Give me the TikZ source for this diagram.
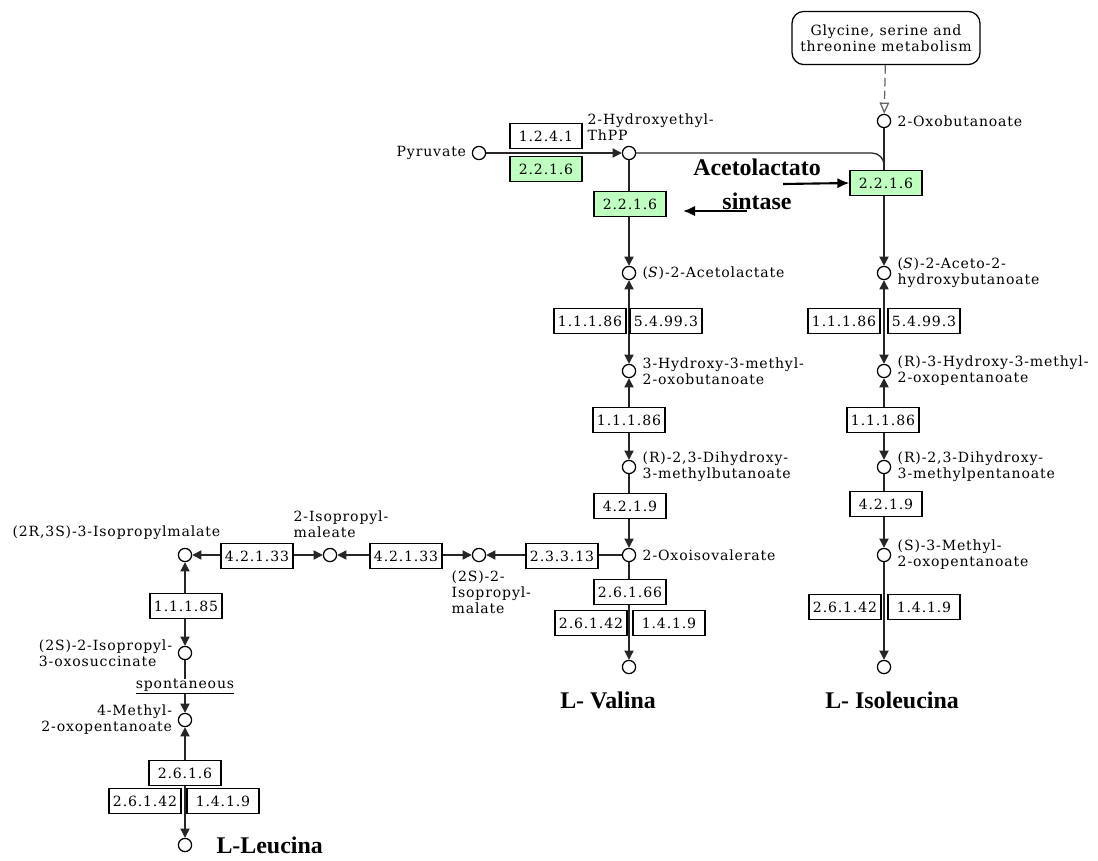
\documentclass[tikz,border=0pt]{standalone}
\usepackage{fontspec}
\setmainfont{Liberation Serif}
\newfontfamily\keggfont[LetterSpace=6]{DejaVu Serif}
\usepackage{tikz}
\usetikzlibrary{arrows.meta,shapes,positioning}
\definecolor{enzgreen}{RGB}{191,255,191}
\tikzset{
  cpd/.style={circle, draw, fill=white, line width=0.9pt, minimum size=3.3mm, inner sep=0pt},
  enz/.style={rectangle, draw, fill=white, line width=0.9pt, minimum width=1.8cm, minimum height=0.64cm, inner sep=1pt, font=\keggfont\fontsize{10}{12}\selectfont},
  enzg/.style={enz, fill=enzgreen},
  lbl/.style={font=\keggfont\fontsize{10}{11.5}\selectfont, inner sep=1pt, align=left},
  amino/.style={font=\bfseries\fontsize{17}{24}\selectfont, inner sep=0pt},
  rxn/.style={line width=0.9pt, draw=black!85}
}

\begin{document}
\begin{tikzpicture}[x=0.025cm, y=-0.025cm, >={Triangle[length=2.3mm,width=2.3mm]}]
        \useasboundingbox (0,0) rectangle (1098,861);

        % Compounds (small circles)
        \node[cpd] (pyr) at (479,153) {};
        \node[cpd] (thpp) at (629,153) {};
        \node[cpd] (oxb) at (884,121) {};
        \node[cpd] (acl) at (629,273) {};
        \node[cpd] (hmob) at (629,371) {};
        \node[cpd] (dhmb) at (629,467) {};
        \node[cpd] (oiv) at (629,555) {};
        \node[cpd] (val) at (629,667) {};
        \node[cpd] (ahb) at (884,273) {};
        \node[cpd] (hmop) at (884,371) {};
        \node[cpd] (dhmp) at (884,467) {};
        \node[cpd] (mop) at (884,555) {};
        \node[cpd] (ile) at (884,667) {};
        \node[cpd] (ipmS) at (479,555) {};
        \node[cpd] (ipml) at (330,555) {};
        \node[cpd] (ipmR) at (185,555) {};
        \node[cpd] (ioxs) at (185,653) {};
        \node[cpd] (mop4) at (185,720) {};
        \node[cpd] (leu) at (185,845) {};
        \coordinate (join) at (884,172);

        % Compound names
        \node[lbl, left=1mm of pyr] {Pyruvate};
        \node[lbl, anchor=west] at (586,127) {2-Hydroxyethyl-\\ThPP};
        \node[lbl, right=1.2mm of oxb] {2-Oxobutanoate};
        \node[lbl, right=1.2mm of acl] {(\textit{S})-2-Acetolactate};
        \node[lbl, right=1.2mm of hmob] {3-Hydroxy-3-methyl-\\2-oxobutanoate};
        \node[lbl, right=1.2mm of dhmb] {(R)-2,3-Dihydroxy-\\3-methylbutanoate};
        \node[lbl, right=1.2mm of oiv] {2-Oxoisovalerate};
        \node[lbl, right=1.2mm of ahb] {(\textit{S})-2-Aceto-2-\\hydroxybutanoate};
        \node[lbl, right=1.2mm of hmop] {(R)-3-Hydroxy-3-methyl-\\2-oxopentanoate};
        \node[lbl, right=1.2mm of dhmp] {(R)-2,3-Dihydroxy-\\3-methylpentanoate};
        \node[lbl, right=1.2mm of mop] {(S)-3-Methyl-\\2-oxopentanoate};
        \node[lbl, anchor=north west] at (450,569) {(2S)-2-\\Isopropyl-\\malate};
        \node[lbl, anchor=west] at (292,524) {2-Isopropyl-\\maleate};
        \node[lbl, anchor=east] at (222,533) {(2R,3S)-3-Isopropylmalate};
        \node[lbl, left=1mm of ioxs] {(2S)-2-Isopropyl-\\3-oxosuccinate};
        \node[lbl, align=right, left=1mm of mop4] {4-Methyl-\\2-oxopentanoate};

        % Glycine map link
        \node[draw, rounded corners=3mm, line width=0.9pt, lbl, align=center, minimum width=4.7cm, minimum height=1.33cm] (gly) at (886,38) {Glycine, serine and\\threonine metabolism};
        \draw[rxn, draw=black!60, dash pattern=on 6pt off 3pt, -{Triangle[open,length=2.8mm,width=2.4mm]}] (gly) -- (oxb);

        % Reactions
        \draw[rxn, ->] (pyr) -- (thpp);
        \draw[rxn, rounded corners=3mm] (thpp) -- (join |- thpp) -- (join);
        \draw[rxn, ->] (thpp) -- (acl);
        \draw[rxn, <->] (acl) -- (hmob);
        \draw[rxn, <->] (hmob) -- (dhmb);
        \draw[rxn, ->] (dhmb) -- (oiv);
        \draw[rxn, ->] (oiv) -- (val);
        \draw[rxn, ->] (oxb) -- (ahb);
        \draw[rxn, <->] (ahb) -- (hmop);
        \draw[rxn, <->] (hmop) -- (dhmp);
        \draw[rxn, ->] (dhmp) -- (mop);
        \draw[rxn, ->] (mop) -- (ile);
        \draw[rxn, ->] (oiv) -- (ipmS);
        \draw[rxn, <->] (ipmS) -- (ipml);
        \draw[rxn, <->] (ipml) -- (ipmR);
        \draw[rxn, <->] (ipmR) -- (ioxs);
        \draw[rxn, ->] (ioxs) -- node[lbl, fill=white, inner sep=0pt] {\underline{spontaneous}} (mop4);
        \draw[rxn, <->] (mop4) -- (leu);

        % Enzymes
        \node[enz] (e1241) at (546,136) {1.2.4.1};
        \node[enzg] (g1) at (546,169) {2.2.1.6};
        \node[enzg] (g2) at (630,204) {2.2.1.6};
        \node[enzg] (g3) at (886,183) {2.2.1.6};
        \node[enz] at (590,321) {1.1.1.86};
        \node[enz] at (666,321) {5.4.99.3};
        \node[enz] at (629,420) {1.1.1.86};
        \node[enz] at (630,506) {4.2.1.9};
        \node[enz] at (562,556) {2.3.3.13};
        \node[enz] at (406,556) {4.2.1.33};
        \node[enz] at (257,556) {4.2.1.33};
        \node[enz] at (630,592) {2.6.1.66};
        \node[enz] at (591,623) {2.6.1.42};
        \node[enz] at (669,623) {1.4.1.9};
        \node[enz] at (844,321) {1.1.1.86};
        \node[enz] at (924,321) {5.4.99.3};
        \node[enz] at (883,420) {1.1.1.86};
        \node[enz] at (886,504) {4.2.1.9};
        \node[enz] at (845,607) {2.6.1.42};
        \node[enz] at (924,607) {1.4.1.9};
        \node[enz] at (186,606) {1.1.1.85};
        \node[enz] at (185,773) {2.6.1.6};
        \node[enz] at (145,801) {2.6.1.42};
        \node[enz] at (223,801) {1.4.1.9};

        % Acetolactato sintase
        \node[amino, align=center] (als) at (757,184) {Acetolactato\\sintase};
        \coordinate (alsR) at (783,184);
        \coordinate (alsL) at (747,211);
        \coordinate (alsLtip) at (683,211);
        \draw[line width=1.5pt, -{Latex[length=3mm,width=2.6mm]}] (alsR) -- (g3.west);
        \draw[line width=1.5pt, -{Latex[length=3mm,width=2.6mm]}] (alsL) -- (alsLtip);

        % Amino acids
        \node[amino] at (608,700) {L- Valina};
        \node[amino] at (892,700) {L- Isoleucina};
        \node[amino, right=6mm of leu] {L-Leucina};
    \end{tikzpicture}
\end{document}
